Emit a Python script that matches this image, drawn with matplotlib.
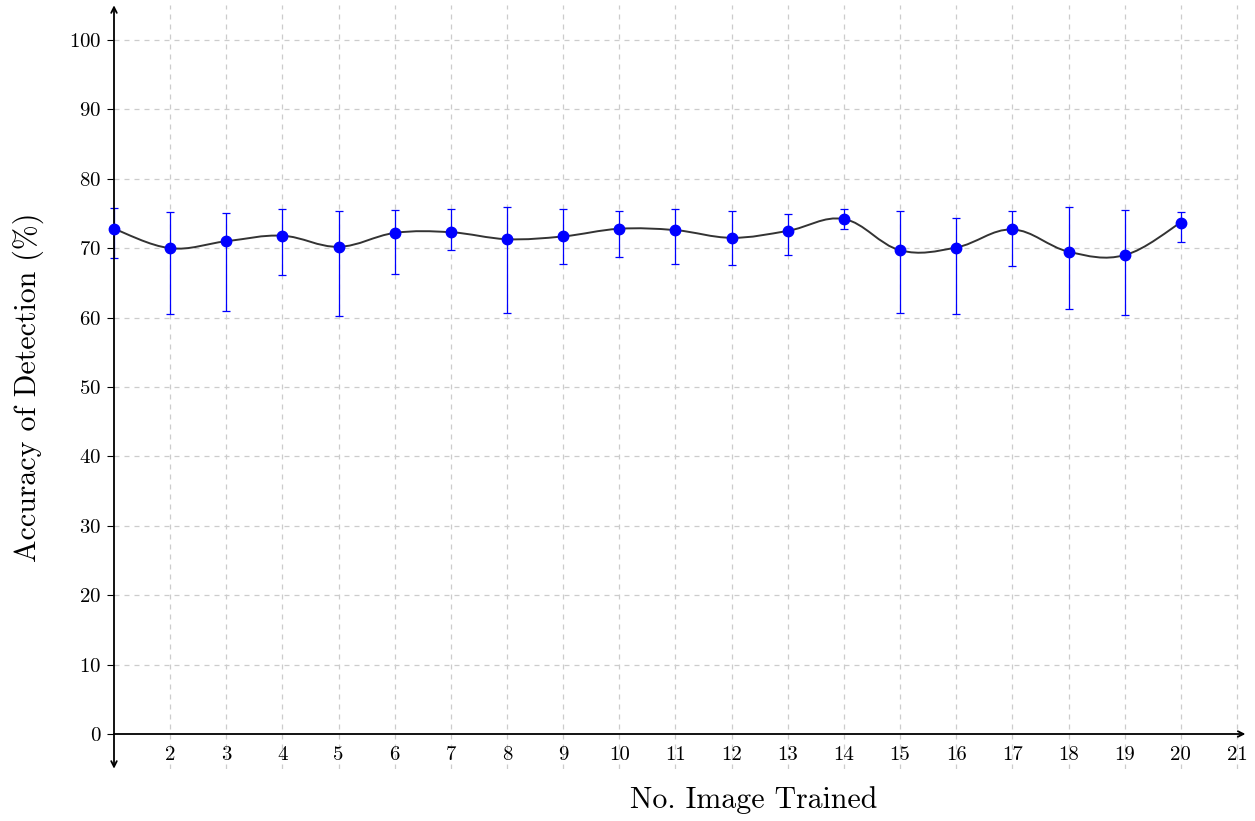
import numpy as np
import matplotlib.pyplot as plt
from matplotlib.path import Path
from matplotlib.patches import PathPatch

plt.rcParams['font.family'] = 'cmr10'
plt.rcParams['mathtext.fontset'] = 'cm'
plt.rcParams['axes.formatter.use_mathtext'] = True

# data
images = [1, 2, 3, 4, 5, 6, 7, 8, 9, 10, 11, 12, 13, 14, 15, 16, 17, 18, 19, 20]
accuracy = [72.8, 70.0, 71.0, 71.8, 70.2, 72.2, 72.3, 71.3, 71.7, 72.8,
            72.6, 71.5, 72.5, 74.2, 69.7, 70.1, 72.7, 69.5, 69.0, 73.7]
acc_upper = [75.8, 75.2, 75.1, 75.7, 75.4, 75.5, 75.7, 75.9, 75.7, 75.4,
             75.7, 75.3, 74.9, 75.6, 75.4, 74.4, 75.3, 75.9, 75.5, 75.2]
acc_lower = [68.6, 60.5, 60.9, 66.2, 60.3, 66.3, 69.7, 60.6, 67.7, 68.8,
             67.7, 67.6, 69.0, 72.7, 60.6, 60.5, 67.4, 61.2, 60.4, 70.9]
xticks = list(range(2, 22))
yticks = list(range(0, 101, 10))

x = np.array(images, dtype=float)
y = np.array(accuracy)
err = [y - np.array(acc_lower), np.array(acc_upper) - y]

fig = plt.figure(figsize=(12.55, 8.21), dpi=100)
ax = fig.add_axes([114/1255, 1 - 768.7/821, (1245.4 - 114)/1255, (768.7 - 5.3)/821])
ax.set_xlim(1, 21.15)
ax.set_ylim(-5, 105)

# grid
for gx in range(2, 22):
    ax.axvline(gx, color='#cccccc', lw=0.9, ls=(0, (4, 4)), zorder=0)
for gy in yticks[1:]:
    ax.plot([1, 21], [gy, gy], color='#cccccc', lw=0.9, ls=(0, (4, 4)), zorder=0)

# smooth curve (cardinal spline, like tikz "smooth")
t = 0.55 / 3
pts = np.column_stack([x, y])
verts = [pts[0]]
codes = [Path.MOVETO]
for i in range(len(pts) - 1):
    p0 = pts[i - 1] if i > 0 else pts[i]
    p1, p2 = pts[i], pts[i + 1]
    p3 = pts[i + 2] if i + 2 < len(pts) else pts[i + 1]
    c1 = p1 + t * (p2 - p0)
    c2 = p2 - t * (p3 - p1)
    verts += [c1, c2, p2]
    codes += [Path.CURVE4] * 3
ax.add_patch(PathPatch(Path(verts, codes), fill=False, ec='#333333', lw=1.4, zorder=2))

ax.errorbar(x, y, yerr=err, fmt='none', ecolor='blue', elinewidth=0.9,
            capsize=3, capthick=0.9, zorder=3, clip_on=False)
ax.plot(x, y, 'o', color='blue', ms=7.5, zorder=4, clip_on=False)

# axes with arrows
for s in ax.spines.values():
    s.set_visible(False)
ax.annotate('', xy=(1, 105), xytext=(1, -5),
            arrowprops=dict(arrowstyle='<->', lw=1.3, color='black',
                            shrinkA=0, shrinkB=0), annotation_clip=False)
ax.annotate('', xy=(21.15, 0), xytext=(1, 0),
            arrowprops=dict(arrowstyle='->', lw=1.3, color='black',
                            shrinkA=0, shrinkB=0), annotation_clip=False)

ax.set_yticks(yticks)
ax.tick_params(axis='y', length=5, width=0.8, labelsize=15, pad=4)

# x tick labels just below the y=0 axis line
ax.set_xticks([])
for xt in xticks:
    ax.text(xt, -3.0, str(xt), ha='center', va='center', fontsize=15)

ax.set_xlabel('No. Image Trained', fontsize=21.5, va='center')
ax.set_ylabel('Accuracy of Detection (%)', fontsize=21.5, va='center')
ax.xaxis.set_label_coords((754 - 114) / 1131.4, (768.7 - 800) / 763.4)
ax.yaxis.set_label_coords((28 - 114) / 1131.4, (768.7 - 387) / 763.4)

fig.savefig('out.png', dpi=100)
